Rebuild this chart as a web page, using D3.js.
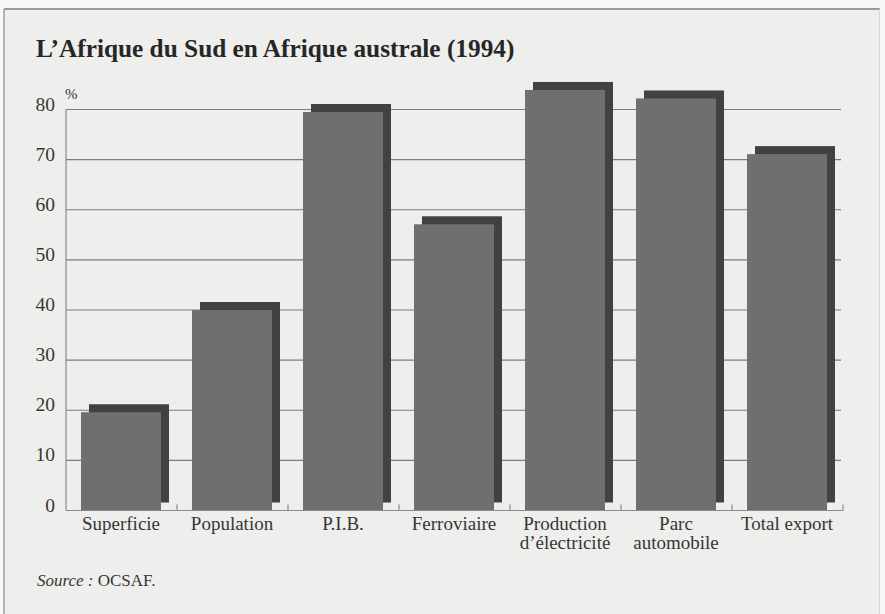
<!DOCTYPE html>
<html><head><meta charset="utf-8">
<script src="https://cdn.jsdelivr.net/npm/d3@7"></script>
<style>html,body{margin:0;padding:0;background:#f7f7f6;}svg{display:block;}</style>
</head><body>
<svg id="chart" width="885" height="614"></svg>
<script>
const title = "L’Afrique du Sud en Afrique australe (1994)";
const categories = ["Superficie", "Population", "P.I.B.", "Ferroviaire", "Production d’électricité", "Parc automobile", "Total export"];
const labelLines = [["Superficie"], ["Population"], ["P.I.B."], ["Ferroviaire"], ["Production", "d’électricité"], ["Parc", "automobile"], ["Total export"]];
const values = [19.6, 40, 79.5, 57.1, 83.9, 82.2, 71.1];
const yTicks = [0, 10, 20, 30, 40, 50, 60, 70, 80];
const unitLabel = "%";
const sourceItalic = "Source :";
const sourceText = " OCSAF.";

const svg = d3.select("#chart");
const serif = "'Liberation Serif','Times New Roman',serif";

// panel background + frame
svg.append("rect").attr("x", 4).attr("y", 9).attr("width", 876).attr("height", 605).attr("fill", "#eeeeec");
svg.append("line").attr("x1", 4).attr("x2", 880).attr("y1", 9).attr("y2", 9).attr("stroke", "#9a9a9a").attr("stroke-width", 2);
svg.append("line").attr("x1", 4).attr("x2", 4).attr("y1", 9).attr("y2", 614).attr("stroke", "#a0a0a0").attr("stroke-width", 1.5);
svg.append("line").attr("x1", 879.5).attr("x2", 879.5).attr("y1", 9).attr("y2", 614).attr("stroke", "#d4d4d4").attr("stroke-width", 1);

const x = d3.scaleBand().domain(categories).range([66, 843]).padding(0);
const y = d3.scaleLinear().domain([0, 80]).range([510.5, 109.5]);
const barW = 80, off = 8;

// gridlines
svg.append("g").selectAll("line").data(yTicks.filter(d => d > 0)).join("line")
  .attr("x1", 66).attr("x2", 841).attr("y1", d => y(d)).attr("y2", d => y(d))
  .attr("stroke", "#7d7d7d").attr("stroke-width", 1.2);

// y axis line
svg.append("line").attr("x1", 66).attr("x2", 66).attr("y1", y(80)).attr("y2", y(0))
  .attr("stroke", "#8a8a8a").attr("stroke-width", 1.2);

// bars: shadow then front
const bx = d => x(d) + (x.bandwidth() - barW) / 2 - 0.5;
svg.append("g").selectAll("rect").data(categories).join("rect")
  .attr("x", d => bx(d) + off).attr("y", (d, i) => y(values[i]) - off)
  .attr("width", barW).attr("height", (d, i) => y(0) - y(values[i]))
  .attr("fill", "#414141");
svg.append("g").selectAll("rect").data(categories).join("rect")
  .attr("x", d => bx(d)).attr("y", (d, i) => y(values[i]))
  .attr("width", barW).attr("height", (d, i) => y(0) - y(values[i]))
  .attr("fill", "#6f6f6f");

// bottom axis with inward ticks
svg.append("line").attr("x1", 66).attr("x2", 843).attr("y1", y(0)).attr("y2", y(0))
  .attr("stroke", "#8a8a8a").attr("stroke-width", 1.2);
svg.append("g").selectAll("line").data(categories).join("line")
  .attr("x1", d => x(d) + x.bandwidth()).attr("x2", d => x(d) + x.bandwidth())
  .attr("y1", y(0)).attr("y2", y(0) - 6)
  .attr("stroke", "#8a8a8a").attr("stroke-width", 1.2);

// y tick labels
svg.append("g").selectAll("text").data(yTicks).join("text")
  .attr("x", 55).attr("y", d => y(d) + 1)
  .attr("text-anchor", "end").attr("font-family", serif).attr("font-size", 19.5)
  .attr("fill", "#363636").text(d => d);
svg.append("text").attr("x", 65).attr("y", 99).attr("font-family", serif).attr("font-size", 15)
  .attr("fill", "#363636").text(unitLabel);

// category labels
const cl = svg.append("g").selectAll("text").data(categories).join("text")
  .attr("x", d => bx(d) + barW / 2).attr("y", 530)
  .attr("text-anchor", "middle").attr("font-family", serif).attr("font-size", 19)
  .attr("fill", "#363636");
cl.each(function(d, i) {
  d3.select(this).selectAll("tspan").data(labelLines[i]).join("tspan")
    .attr("x", bx(d) + barW / 2).attr("dy", (t, j) => j === 0 ? 0 : 19).text(t => t);
});

// title
svg.append("text").attr("x", 36).attr("y", 57).attr("font-family", serif).attr("font-weight", "bold")
  .attr("font-size", 25.3).attr("fill", "#262626").text(title);

// source
const src = svg.append("text").attr("x", 37).attr("y", 586).attr("font-family", serif)
  .attr("font-size", 17).attr("fill", "#363636");
src.append("tspan").attr("font-style", "italic").text(sourceItalic);
src.append("tspan").text(sourceText);
</script>
</body></html>
